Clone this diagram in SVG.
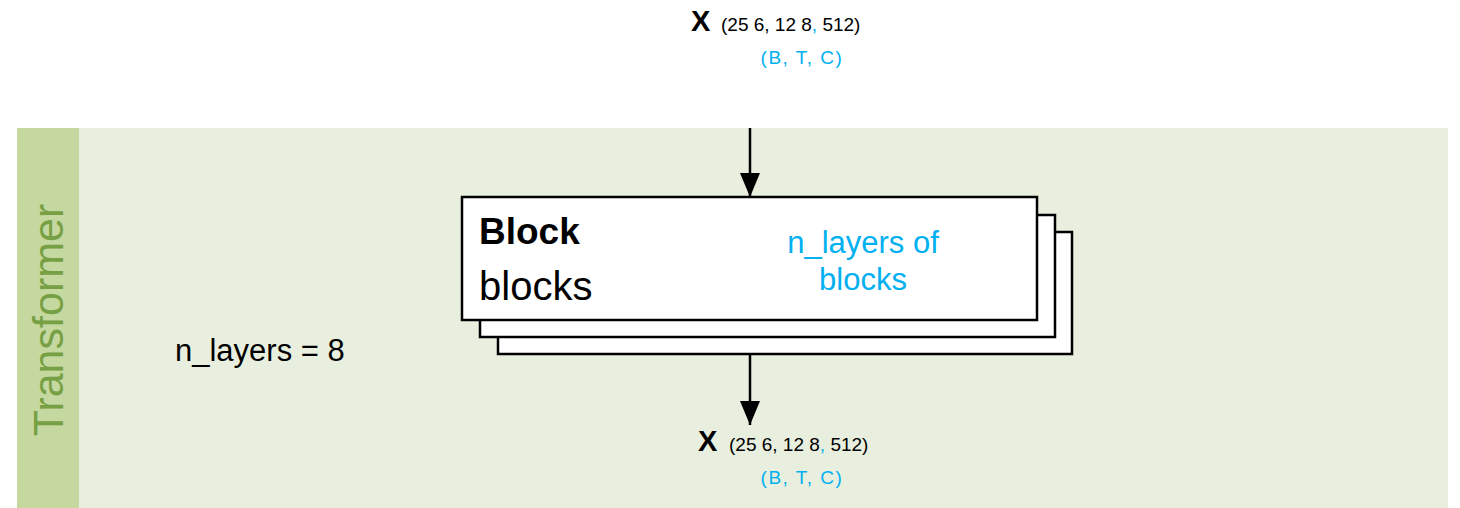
<svg xmlns="http://www.w3.org/2000/svg" width="1460" height="508" viewBox="0 0 1460 508">
  <defs>
    <marker id="arrow" markerWidth="24" markerHeight="20" refX="24" refY="10" orient="auto" markerUnits="userSpaceOnUse" viewBox="0 0 24 20">
      <path d="M0,0 L24,10 L0,20 Z" fill="#000"/>
    </marker>
  </defs>
  <style>
    .txt { font-family: "Liberation Sans", Arial, sans-serif; fill: #000; }
    .blue { fill: #00b0f0; }
    .layer { fill: #fff; stroke: #000; stroke-width: 2.5; }
    .conn { stroke: #000; stroke-width: 2.5; fill: none; }
  </style>

  <!-- swimlane background -->
  <g id="lane">
    <rect x="17" y="128" width="1431" height="380" fill="#e9efdf"/>
    <rect x="17" y="128" width="62" height="380" fill="#c5d8a0"/>
    <text class="txt" x="0" y="0" transform="translate(63,320) rotate(-90)" text-anchor="middle" font-size="43" style="fill:#77a044">Transformer</text>
  </g>

  <!-- input tensor label -->
  <g id="input">
    <text class="txt" x="691" y="31" font-size="29" font-weight="bold">X</text>
    <text class="txt" x="721" y="31" font-size="19">(25 6, 12 8<tspan class="blue">,</tspan> 512)</text>
    <text class="txt blue" x="802" y="64" font-size="19" text-anchor="middle" letter-spacing="1.5">(B, T, C)</text>
  </g>

  <!-- stacked blocks -->
  <g id="blocks">
    <rect class="layer" x="498" y="232" width="574" height="122"/>
    <rect class="layer" x="480" y="215" width="575" height="122"/>
    <rect class="layer" x="462" y="197" width="575" height="123"/>
    <text class="txt" x="479" y="244" font-size="37" font-weight="bold">Block</text>
    <text class="txt" x="479" y="300" font-size="40">blocks</text>
    <text class="txt blue" x="863" y="253" font-size="31" text-anchor="middle">n_layers of</text>
    <text class="txt blue" x="863" y="290" font-size="31" text-anchor="middle">blocks</text>
  </g>

  <!-- layer count -->
  <g id="count">
    <text class="txt" x="175" y="361" font-size="31">n_layers = 8</text>
  </g>

  <!-- output tensor label -->
  <g id="output">
    <text class="txt" x="698" y="451" font-size="29" font-weight="bold">X</text>
    <text class="txt" x="729" y="451" font-size="19">(25 6, 12 8<tspan class="blue">,</tspan> 512)</text>
    <text class="txt blue" x="802" y="484" font-size="19" text-anchor="middle" letter-spacing="1.5">(B, T, C)</text>
  </g>

  <!-- connectors -->
  <g id="connectors">
    <line class="conn" x1="750" y1="128" x2="750" y2="197" marker-end="url(#arrow)"/>
    <line class="conn" x1="750" y1="354" x2="750" y2="425" marker-end="url(#arrow)"/>
  </g>
</svg>
